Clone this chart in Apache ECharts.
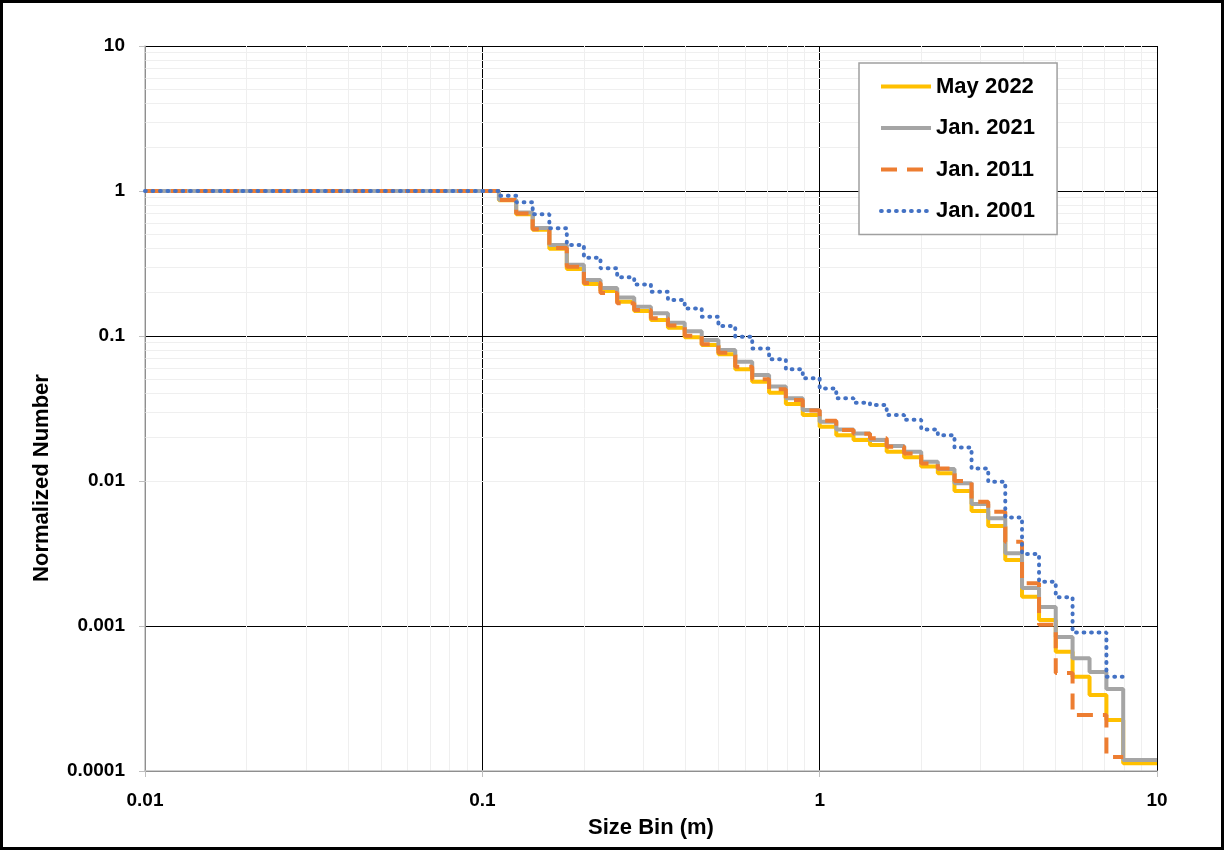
<!DOCTYPE html>
<html>
<head>
<meta charset="utf-8">
<script src="https://cdn.jsdelivr.net/npm/echarts@6/dist/echarts.min.js"></script>
<style>
  html, body { margin: 0; padding: 0; background: #fff; }
  #chart { width: 1225px; height: 851px; }
</style>
</head>
<body>
<div id="chart"></div>
<script>
// ---------------- data ----------------
const xTickLabels = ['0.01', '0.1', '1', '10'];
const yTickLabels = ['0.0001', '0.001', '0.01', '0.1', '1', '10'];
const seriesNames = ['May 2022', 'Jan. 2021', 'Jan. 2011', 'Jan. 2001'];
const xAxisTitle = 'Size Bin (m)';
const yAxisTitle = 'Normalized Number';

// left edge of each size bin (m)
const sizeBinEdges = [0.112, 0.126, 0.141, 0.158, 0.178, 0.200, 0.224, 0.251, 0.282, 0.316,
  0.355, 0.398, 0.447, 0.501, 0.562, 0.631, 0.708, 0.794, 0.891, 1.00,
  1.12, 1.26, 1.41, 1.58, 1.78, 2.00, 2.24, 2.51, 2.82, 3.16,
  3.55, 3.98, 4.47, 5.01, 5.62, 6.31, 7.08, 7.94];
const startSize = 0.01;
const endSize = 10;
const startValue = 1;

const may2022 = [0.865, 0.69, 0.54, 0.40, 0.29, 0.228, 0.204, 0.172, 0.149, 0.129,
  0.114, 0.098, 0.0867, 0.0748, 0.0589, 0.0484, 0.0406, 0.034, 0.0285, 0.0237,
  0.0207, 0.0192, 0.0177, 0.0159, 0.0146, 0.0126, 0.0113, 0.00853, 0.0062, 0.0049,
  0.00285, 0.00159, 0.0011, 0.000665, 0.000447, 0.000334, 0.000225, 0.000113];

const jan2021 = [0.87, 0.71, 0.555, 0.425, 0.31, 0.243, 0.214, 0.184, 0.159, 0.1435,
  0.1236, 0.108, 0.0937, 0.080, 0.0665, 0.0538, 0.0448, 0.0372, 0.0309, 0.0256,
  0.0227, 0.0213, 0.0192, 0.0174, 0.0159, 0.0136, 0.0121, 0.00964, 0.00694, 0.00553,
  0.00317, 0.00183, 0.00135, 0.00084, 0.00060, 0.000482, 0.000368, 0.000119];

const jan2011 = [0.867, 0.70, 0.545, 0.405, 0.30, 0.232, 0.198, 0.168, 0.151, 0.1325,
  0.118, 0.1004, 0.0877, 0.0767, 0.0614, 0.0503, 0.0429, 0.0362, 0.0306, 0.026,
  0.0225, 0.0212, 0.0197, 0.0172, 0.0155, 0.0132, 0.0122, 0.0100, 0.00719, 0.00614,
  0.00381, 0.00197, 0.00102, 0.000474, 0.000243, 0.000243, 0.000125];

const jan2001 = [0.929, 0.835, 0.69, 0.553, 0.425, 0.347, 0.293, 0.254, 0.227, 0.202,
  0.177, 0.155, 0.136, 0.117, 0.099, 0.082, 0.069, 0.0589, 0.0511, 0.0435,
  0.0372, 0.0347, 0.0334, 0.0285, 0.0264, 0.0227, 0.0207, 0.0170, 0.0122, 0.00988,
  0.00561, 0.00314, 0.00202, 0.00158, 0.000903, 0.000903, 0.000447];

const minorMultipliers = [2, 3, 4, 5, 6, 7, 8, 9];
const xDecades = [0.01, 0.1, 1];
const yDecades = [0.0001, 0.001, 0.01, 0.1, 1];

// ---------------- build ----------------
function buildSteps(values) {
  const pts = [[startSize, startValue]];
  values.forEach((v, i) => pts.push([sizeBinEdges[i], v]));
  const endX = values.length < sizeBinEdges.length ? sizeBinEdges[values.length] : endSize;
  pts.push([endX, values[values.length - 1]]);
  return pts;
}

const FONT = 'Liberation Sans';
const minorX = [];
xDecades.forEach(d => minorMultipliers.forEach(m => minorX.push({ xAxis: +(d * m).toPrecision(6) })));
const minorY = [];
yDecades.forEach(d => minorMultipliers.forEach(m => minorY.push({ yAxis: +(d * m).toPrecision(6) })));

function labelFor(list, v) {
  const e = Math.round(Math.log10(v));
  const idx = list.findIndex(s => Math.round(Math.log10(parseFloat(s))) === e);
  return idx >= 0 ? list[idx] : '';
}

const chart = echarts.init(document.getElementById('chart'), null, { renderer: 'canvas' });
chart.setOption({
  backgroundColor: '#ffffff',
  animation: false,
  grid: { left: 145, right: 68, top: 46, bottom: 80, containLabel: false },
  graphic: [
    {
      type: 'rect', silent: true, z: 100,
      shape: { x: 1.5, y: 1.5, width: 1221, height: 847 },
      style: { fill: 'none', stroke: '#000', lineWidth: 3 }
    },
    {
      type: 'text', silent: true, z: 100,
      x: 42, y: 478, rotation: Math.PI / 2,
      style: {
        text: yAxisTitle, fill: '#000',
        font: 'bold 22px "Liberation Sans"',
        align: 'center', verticalAlign: 'middle'
      }
    }
  ],
  legend: {
    data: seriesNames,
    orient: 'vertical',
    left: 859, top: 63,
    padding: [12.5, 22, 12.5, 20],
    itemWidth: 50, itemHeight: 20, itemGap: 19.5,
    itemStyle: { opacity: 0 },
    lineStyle: { width: 4 },
    textStyle: { fontSize: 22, fontWeight: 'bold', color: '#000', fontFamily: FONT },
    backgroundColor: '#ffffff',
    borderColor: '#a0a0a0', borderWidth: 1.5, borderRadius: 0,
    z: 50
  },
  xAxis: {
    type: 'log', logBase: 10, min: 0.01, max: 10,
    name: xAxisTitle, nameLocation: 'middle', nameGap: 46,
    nameTextStyle: { fontSize: 22, fontWeight: 'bold', color: '#000', fontFamily: FONT },
    axisLine: { show: true, lineStyle: { color: '#bfbfbf', width: 1.5 } },
    axisTick: { show: true, inside: false, length: 6, lineStyle: { color: '#bfbfbf' } },
    axisLabel: { margin: 20, fontSize: 19, fontWeight: 'bold', color: '#000', fontFamily: FONT,
      formatter: v => labelFor(xTickLabels, v) },
    splitLine: { show: true, lineStyle: { color: '#000', width: 1 } },
    minorTick: { show: false }, minorSplitLine: { show: false }
  },
  yAxis: {
    type: 'log', logBase: 10, min: 0.0001, max: 10,
    axisLine: { show: true, lineStyle: { color: '#bfbfbf', width: 1.5 } },
    axisTick: { show: true, inside: false, length: 6, lineStyle: { color: '#bfbfbf' } },
    axisLabel: { margin: 20, fontSize: 19, fontWeight: 'bold', color: '#000', fontFamily: FONT,
      formatter: v => labelFor(yTickLabels, v) },
    splitLine: { show: true, lineStyle: { color: '#000', width: 1 } }
  },
  series: [
    {
      name: 'minor', type: 'line', data: [], silent: true, symbol: 'none',
      lineStyle: { opacity: 0 }, z: 0,
      markLine: {
        silent: true, symbol: 'none', z: 0, animation: false,
        label: { show: false },
        lineStyle: { color: '#efefef', width: 1, type: 'solid' },
        emphasis: { disabled: true },
        data: minorX.concat(minorY)
      }
    },
    {
      name: seriesNames[0], type: 'line', step: 'end', symbol: 'none', showSymbol: false, z: 3,
      color: '#FFC000',
      lineStyle: { color: '#FFC000', width: 4 },
      data: buildSteps(may2022)
    },
    {
      name: seriesNames[1], type: 'line', step: 'end', symbol: 'none', showSymbol: false, z: 4,
      color: '#A5A5A5',
      lineStyle: { color: '#A5A5A5', width: 4 },
      data: buildSteps(jan2021)
    },
    {
      name: seriesNames[2], type: 'line', step: 'end', symbol: 'none', showSymbol: false, z: 5,
      color: '#ED7D31',
      lineStyle: { color: '#ED7D31', width: 4, type: [16, 10] },
      data: buildSteps(jan2011)
    },
    {
      name: seriesNames[3], type: 'line', step: 'end', symbol: 'none', showSymbol: false, z: 6,
      color: '#4472C4',
      lineStyle: { color: '#4472C4', width: 4, type: [0.8, 6.7], cap: 'round' },
      data: buildSteps(jan2001)
    }
  ]
});
</script>
</body>
</html>
